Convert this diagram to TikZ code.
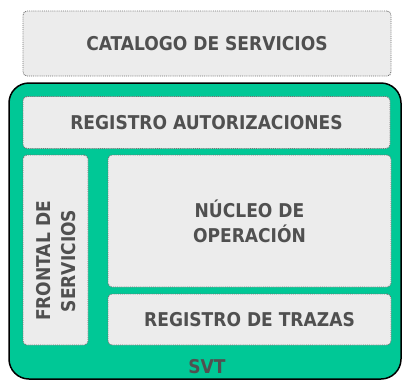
\documentclass[tikz,border=0pt]{standalone}
\usepackage{fontspec}
\setmainfont{DejaVu Sans Condensed}
\definecolor{svtgreen}{HTML}{00C896}
\definecolor{boxgray}{HTML}{ECECEC}
\definecolor{txtgray}{HTML}{505050}
\definecolor{linegray}{HTML}{707070}
\tikzset{
rotulo/.style={text=txtgray, font=\bfseries\fontsize{19}{25}\selectfont, align=center, inner sep=0pt},
modulo/.style={rotulo, draw=linegray, densely dotted, line width=0.9pt, fill=boxgray, rounded corners=4pt}
}
\begin{document}
\begin{tikzpicture}[x=1pt,y=-1pt]
\useasboundingbox (0,0) rectangle (403,381);
\node[modulo, minimum width=368pt, minimum height=65pt] (catalogo) at (207,43.5) {CATALOGO DE SERVICIOS};
\draw[fill=svtgreen, line width=1.5pt, rounded corners=20pt] (9,83) rectangle (401,379);
\node[modulo, minimum width=367pt, minimum height=52pt] (autoriz) at (206.5,122.5) {REGISTRO AUTORIZACIONES};
\node[modulo, minimum width=65pt, minimum height=190pt] (frontal) at (55.5,250) {};
\node[rotulo, rotate=90] (frontaltxt) at (56,261) {FRONTAL DE\\SERVICIOS};
\node[modulo, minimum width=283pt, minimum height=132pt] (nucleo) at (249.5,221) {NÚCLEO DE\\OPERACIÓN};
\node[modulo, minimum width=283pt, minimum height=51pt] (trazas) at (249.5,319.5) {REGISTRO DE TRAZAS};
\node[rotulo] (svt) at (207,367) {SVT};
\end{tikzpicture}
\end{document}
